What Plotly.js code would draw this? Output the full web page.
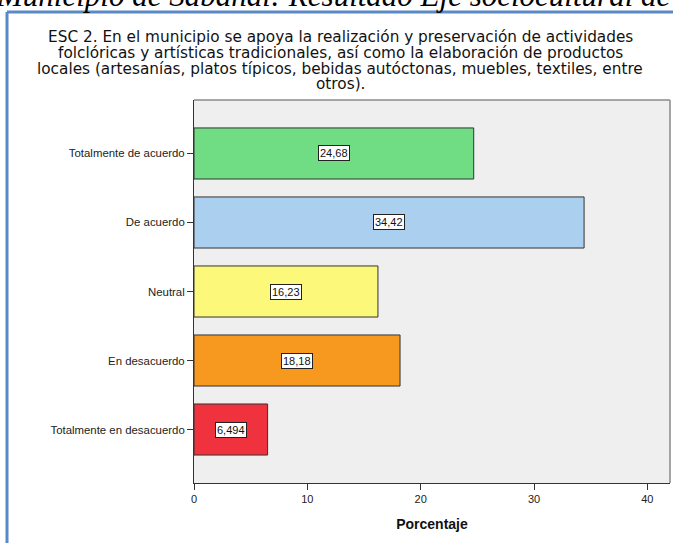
<!DOCTYPE html>
<html>
<head>
<meta charset="utf-8">
<script src="https://cdn.plot.ly/plotly-3.0.1.min.js"></script>
<style>
html,body{margin:0;padding:0;background:#fff;}
#chart{width:673px;height:543px;}
</style>
</head>
<body>
<div id="chart"></div>
<script>
const categories = ["Totalmente de acuerdo", "De acuerdo", "Neutral", "En desacuerdo", "Totalmente en desacuerdo"];
const values = [24.68, 34.42, 16.23, 18.18, 6.494];
const barColors = ["#70dc84", "#abcfee", "#fbf87a", "#f7991f", "#ef323d"];
const xTicks = [0, 10, 20, 30, 40];
const titleLines = [
  "ESC 2. En el municipio se apoya la realización y preservación de actividades",
  "folclóricas y artísticas tradicionales, así como la elaboración de productos",
  "locales (artesanías, platos típicos, bebidas autóctonas, muebles, textiles, entre",
  "otros)."
];
const topCaption = "Municipio de Sabanal: Resultado Eje sociocultural de";
const xTitle = "Porcentaje";

const fmt = v => v.toPrecision(4).replace('.', ',');

const trace = {
  type: 'bar',
  orientation: 'h',
  y: categories,
  x: values,
  width: 0.74,
  marker: {color: barColors, line: {color: '#333333', width: 1}},
  hoverinfo: 'none'
};

const L = 194, R = 3, T = 100, B = 60;
const W = 673, H = 543;
const pw = W - L - R, ph = H - T - B;
const px = x => (x - L) / pw;
const py = y => (H - B - y) / ph;

const annotations = categories.map((c, i) => ({
  x: values[i] / 2, y: c, xref: 'x', yref: 'y',
  text: fmt(values[i]), showarrow: false,
  font: {family: 'Liberation Sans, Arial', size: 11, color: '#111'},
  bgcolor: '#ffffff', bordercolor: '#222222', borderwidth: 1, borderpad: 1
}));
annotations.push({
  xref: 'paper', yref: 'paper', x: px(-6), y: py(15), xanchor: 'left', yanchor: 'bottom',
  text: '<i>' + topCaption + '</i>', showarrow: false,
  font: {family: 'Liberation Serif, Times New Roman', size: 31, color: '#000'}
});
const titleY = [37, 53, 68.5, 84];
titleLines.forEach((t, i) => {
  annotations.push({
    xref: 'paper', yref: 'paper', x: px(340), y: py(titleY[i]), xanchor: 'center', yanchor: 'middle',
    text: t, showarrow: false,
    font: {family: 'DejaVu Sans, Liberation Sans, Arial', size: 15.3, color: '#111'}
  });
});

const layout = {
  width: W, height: H,
  margin: {l: L, r: R, t: T, b: B, pad: 0},
  paper_bgcolor: '#ffffff',
  plot_bgcolor: '#efefef',
  showlegend: false,
  xaxis: {
    range: [0, 42],
    tickvals: xTicks,
    ticktext: xTicks.map(String),
    ticks: 'outside', ticklen: 6, tickcolor: '#333', tickwidth: 1,
    showgrid: false, zeroline: false,
    showline: true, linecolor: '#333', linewidth: 1,
    tickfont: {family: 'Liberation Sans, Arial', size: 11, color: '#222'},
    title: {text: xTitle, font: {family: 'Liberation Sans, Arial', size: 14, color: '#111', weight: 'bold'}, standoff: 14},
    fixedrange: true
  },
  yaxis: {
    type: 'category',
    range: [4.775, -0.775],
    ticks: 'outside', ticklen: 6, tickcolor: '#333', tickwidth: 1,
    showgrid: false, zeroline: false,
    showline: true, linecolor: '#333', linewidth: 1,
    tickfont: {family: 'Liberation Sans, Arial', size: 11.4, color: '#222'},
    ticklabelstandoff: 0,
    fixedrange: true
  },
  annotations: annotations,
  shapes: [
    {type: 'line', xref: 'paper', yref: 'paper', x0: 0, x1: 1, y0: 1, y1: 1, line: {color: '#8a8a8a', width: 1.5}},
    {type: 'line', xref: 'paper', yref: 'paper', x0: 1, x1: 1, y0: 0, y1: 1, line: {color: '#8a8a8a', width: 1.5}},
    {type: 'line', xref: 'paper', yref: 'paper', x0: px(7), x1: px(W + 5), y0: py(12), y1: py(12), line: {color: '#5a8ac6', width: 3}},
    {type: 'line', xref: 'paper', yref: 'paper', x0: px(7), x1: px(7), y0: py(12), y1: py(H + 5), line: {color: '#5a8ac6', width: 3}}
  ]
};

Plotly.newPlot('chart', [trace], layout, {staticPlot: true, displayModeBar: false});
</script>
</body>
</html>
